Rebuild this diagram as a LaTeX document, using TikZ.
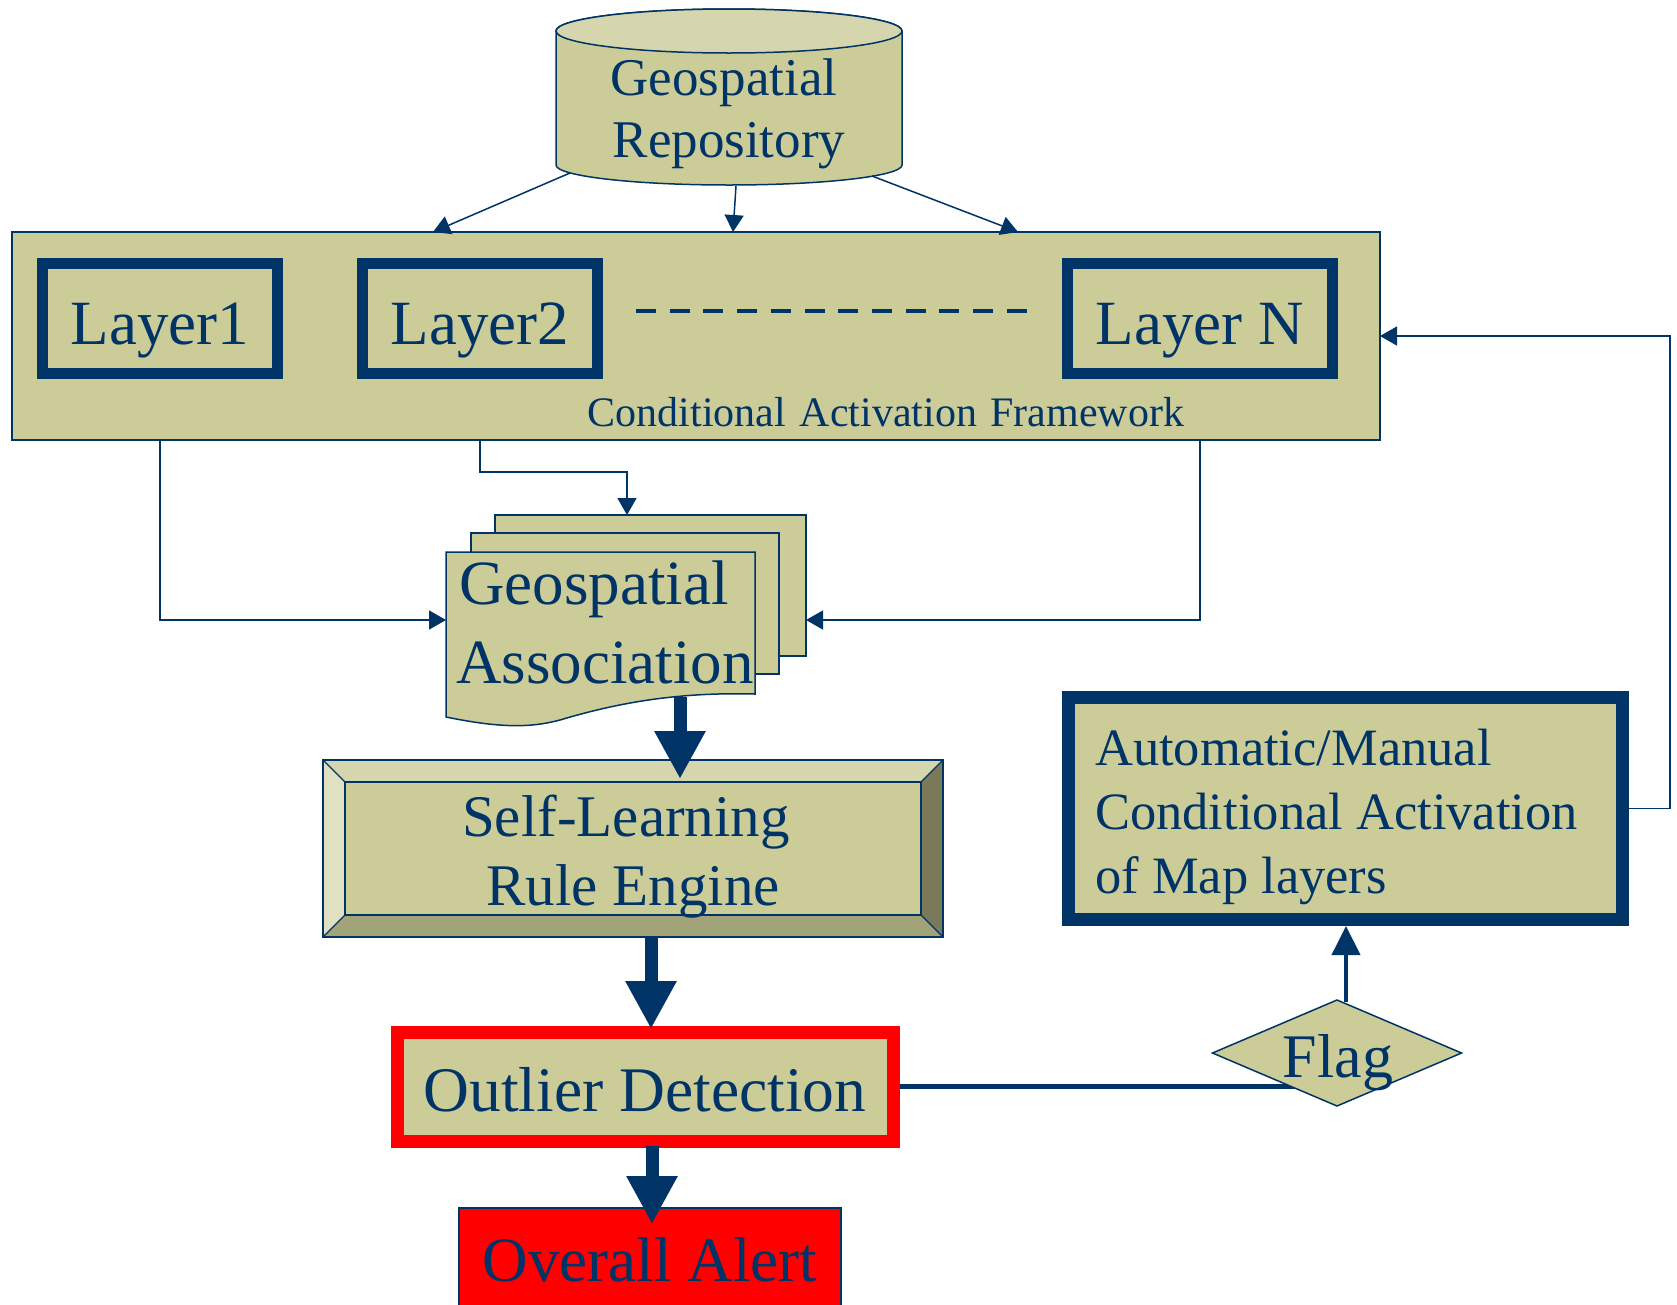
\documentclass[tikz,border=0pt]{standalone}
\usepackage{fontspec}
\setmainfont{Liberation Serif}
\usetikzlibrary{arrows.meta}
\definecolor{navy}{HTML}{003366}
\definecolor{khaki}{HTML}{CCCC99}
\definecolor{khakitop}{HTML}{D6D6AE}
\definecolor{bevL}{HTML}{E0E0C2}
\definecolor{bevR}{HTML}{7A7A5A}
\definecolor{bevB}{HTML}{A3A37A}
\definecolor{alertred}{HTML}{FF0000}
\begin{document}
\begin{tikzpicture}[x=1pt,y=-1pt,
  lbl/.style={text=navy, inner sep=0pt, anchor=base},
  lblw/.style={text=navy, inner sep=0pt, anchor=base west},
  box/.style={rectangle, inner sep=0pt, outer sep=0pt},
  thinln/.style={draw=navy, line width=1.5pt},
  thinarr/.style={thinln, -{Triangle[length=17pt,width=19pt]}},
  fatarr/.style={draw=navy, line width=13pt, -{Triangle[length=48pt,width=48pt]}},
  midarr/.style={draw=navy, line width=4pt, -{Triangle[length=29pt,width=28pt]}},
  fA/.style={font=\fontsize{63}{63}\selectfont},
  fB/.style={font=\fontsize{53}{53}\selectfont},
  fC/.style={font=\fontsize{42}{42}\selectfont},
  fD/.style={font=\fontsize{59}{59}\selectfont},
  fE/.style={font=\fontsize{52.5}{52.5}\selectfont},
]
\useasboundingbox (0,0) rectangle (1677,1304);
\clip (0,0) rectangle (1677,1304);
\fill[white] (0,0) rectangle (1677,1304);

% ---------- Geospatial Repository (cylinder)
\fill[khaki, draw=navy, line width=1.5pt] (556,31) -- (556,165)
  arc[start angle=180,end angle=360,x radius=173pt,y radius=20pt] -- (902,31)
  arc[start angle=0,end angle=180,x radius=173pt,y radius=22pt] -- cycle;
\filldraw[fill=khakitop, draw=navy, line width=1.5pt] (729,31) ellipse[x radius=173pt, y radius=22pt];
\node[box, minimum width=346pt, minimum height=134pt] (repo) at (729,98) {};
\node[lbl, fB] (repoA) at (724,95) {Geospatial};
\node[lbl, fB] (repoB) at (729,157) {Repository};

% ---------- Framework
\node[box, draw=navy, line width=1.5pt, fill=khaki, minimum width=1368pt, minimum height=208pt] (frame) at (696,336) {};
\node[box, draw=navy, line width=11pt, fill=khaki, minimum width=235pt, minimum height=110pt] (l1) at (160,318.5) {};
\node[box, draw=navy, line width=11pt, fill=khaki, minimum width=235pt, minimum height=110pt] (l2) at (480,318.5) {};
\node[box, draw=navy, line width=11pt, fill=khaki, minimum width=265pt, minimum height=110pt] (ln) at (1200,318.5) {};
\node[lbl, fA] (l1t) at (160,344) {Layer1};
\node[lbl, fA] (l2t) at (480,344) {Layer2};
\node[lbl, fA] (lnt) at (1200,344) {Layer N};
\coordinate (d1) at (636,311);
\coordinate (d2) at (1027,311);
\draw[navy, line width=4.5pt, dash pattern=on 20pt off 13.7pt] (d1) -- (d2);
\node[lbl, fC] (cafl) at (886,426) {Conditional\hspace{3pt} Activation\hspace{3pt} Framework};

% cylinder -> framework
\coordinate (r1) at (570,173); \coordinate (t1) at (433,232);
\coordinate (r2) at (736,186); \coordinate (t2) at (733,232);
\coordinate (r3) at (872,176); \coordinate (t3) at (1018,232);
\draw[thinarr] (r1) -- (t1);
\draw[thinarr] (r2) -- (t2);
\draw[thinarr] (r3) -- (t3);

% ---------- Geospatial Association (multi-document)
\filldraw[fill=khaki, draw=navy, line width=1.5pt] (495,515) rectangle (806,656);
\filldraw[fill=khaki, draw=navy, line width=1.5pt] (471,533) rectangle (779,674);
\filldraw[fill=khaki, draw=navy, line width=1.5pt] (446,552) -- (755,552) -- (755,694)
  .. controls (680,692) and (620,702) .. (560,720)
  .. controls (530,728) and (500,728) .. (446,717) -- cycle;
\node[box, minimum width=309pt, minimum height=165pt] (assoc) at (600,635) {};
\node[lblw, fA] (asA) at (459,604) {Geospatial};
\node[lblw, fA] (asB) at (456,683) {Association};

\coordinate (aL) at (446,620);
\coordinate (aR) at (806,620);
\coordinate (aT) at (627,515);
\draw[thinarr] (frame.south -| l1) |- (aL);
\draw[thinarr] (frame.south -| l2) -- ++(0,32) -| (aT);
\draw[thinarr] (frame.south -| ln) |- (aR);

% ---------- Self-Learning Rule Engine (bevel)
\fill[khakitop] (323,760) -- (943,760) -- (921,782) -- (345,782) -- cycle;
\fill[bevL] (323,760) -- (345,782) -- (345,915) -- (323,937) -- cycle;
\fill[bevR] (943,760) -- (943,937) -- (921,915) -- (921,782) -- cycle;
\fill[bevB] (323,937) -- (345,915) -- (921,915) -- (943,937) -- cycle;
\node[box, draw=navy, line width=1.5pt, fill=khaki, minimum width=576pt, minimum height=133pt] (self) at (633,848.5) {};
\draw[navy, line width=1.5pt] (323,760) rectangle (943,937);
\draw[navy, line width=1.2pt] (323,760) -- (self.north west) (943,760) -- (self.north east)
  (323,937) -- (self.south west) (943,937) -- (self.south east);
\node[lbl, fD] (slA) at (626,836) {Self-Learning};
\node[lbl, fD] (slB) at (633,905) {Rule Engine};

% ---------- Outlier Detection
\node[box, draw=alertred, line width=13pt, fill=khaki, minimum width=496pt, minimum height=109pt, outer sep=auto] (outl) at (645,1086.5) {};
\node[lbl, font=\fontsize{63.5}{63.5}\selectfont] (outlt) at (645,1111) {Outlier Detection};

% ---------- Overall Alert
\node[box, draw=navy, line width=1.5pt, fill=alertred, minimum width=382pt, minimum height=112pt] (alert) at (650,1264) {};
\node[lbl, fA] (alertt) at (650,1281) {Overall Alert};

% ---------- Automatic/Manual box
\node[box, draw=navy, line width=13pt, fill=khaki, minimum width=554pt, minimum height=222pt, outer sep=auto] (auto) at (1345.5,808.5) {};
\node[lblw, fE] (auA) at (1095,765) {Automatic/Manual};
\node[lblw, fE] (auB) at (1095,829) {Conditional Activation};
\node[lblw, fE] (auC) at (1095,893) {of Map layers};
\draw[thinarr] (auto.east) -- ++(41,0) |- (frame.east);

% ---------- Flag
\node[box, minimum width=249pt, minimum height=106pt] (flag) at (1337,1053) {};
\draw[navy, line width=5pt] (outl.east) -- (outl.east -| flag.center);
\filldraw[fill=khaki, draw=navy, line width=1.5pt] (flag.west) -- (flag.north) -- (flag.east) -- (flag.south) -- cycle;
\node[lbl, font=\fontsize{62}{62}\selectfont] (flagt) at (1338,1077) {Flag};
\coordinate (fq) at (1346,1002);
\draw[midarr] (fq) -- (auto.south -| fq);

% ---------- thick arrows
\coordinate (a1) at (680,697); \coordinate (a1t) at (680,779);
\draw[fatarr] (a1) -- (a1t);
\coordinate (a2) at (651,937); \coordinate (a2t) at (651,1029);
\draw[fatarr] (a2) -- (a2t);
\coordinate (a3) at (652,1146); \coordinate (a3t) at (652,1224);
\draw[fatarr] (a3) -- (a3t);
\end{tikzpicture}
\end{document}
